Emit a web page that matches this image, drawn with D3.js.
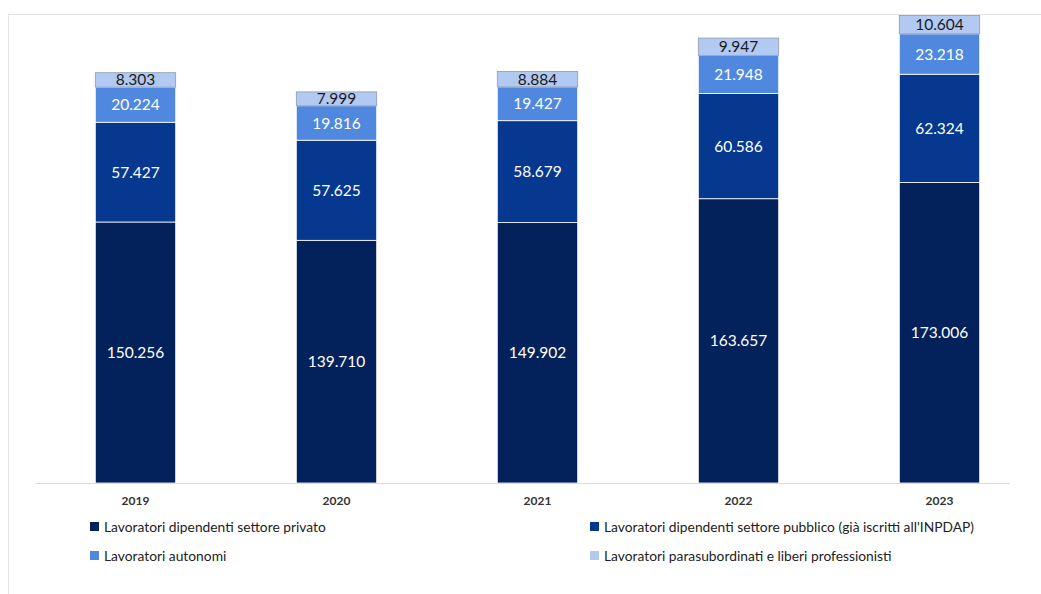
<!DOCTYPE html>
<html>
<head>
<meta charset="utf-8">
<script src="https://cdn.jsdelivr.net/npm/d3@7"></script>
<style>
  html, body { margin: 0; padding: 0; background: #fff; }
  svg { display: block; font-family: Lato, "Open Sans", sans-serif; }
</style>
</head>
<body>
<svg id="chart" width="1041" height="594"></svg>
<script>
// Iscritti per anno e categoria di lavoratori
const years = ["2019", "2020", "2021", "2022", "2023"];
const privato = [150256, 139710, 149902, 163657, 173006];
const pubblico = [57427, 57625, 58679, 60586, 62324];
const autonomi = [20224, 19816, 19427, 21948, 23218];
const parasubordinati = [8303, 7999, 8884, 9947, 10604];

const seriesNames = [
  "Lavoratori dipendenti settore privato",
  "Lavoratori dipendenti settore pubblico (già iscritti all'INPDAP)",
  "Lavoratori autonomi",
  "Lavoratori parasubordinati e liberi professionisti"
];
const seriesKeys = ["privato", "pubblico", "autonomi", "parasubordinati"];
const colors = ["#03215a", "#07388f", "#5088df", "#b2c9f1"];
const labelColors = ["#ffffff", "#ffffff", "#ffffff", "#1b1b1b"];

const rows = years.map((y, i) => ({
  year: y,
  privato: privato[i],
  pubblico: pubblico[i],
  autonomi: autonomi[i],
  parasubordinati: parasubordinati[i]
}));

const svg = d3.select("#chart");
const it = d3.formatLocale({ decimal: ",", thousands: ".", grouping: [3], currency: ["€", ""] });
const fmt = it.format(",d");

// frame
svg.append("path")
  .attr("d", "M8.5,594 V14.5 H1041")
  .attr("fill", "none")
  .attr("stroke", "#e4e4e4")
  .attr("stroke-width", 1);

const x = d3.scaleBand().domain(years).range([35, 1040]).paddingInner(0.6).paddingOuter(0.3);
const y = d3.scaleLinear().domain([0, 270000]).range([483, 14]);

const stack = d3.stack().keys(seriesKeys)(rows);

const layers = svg.append("g").selectAll("g")
  .data(stack)
  .join("g")
  .attr("fill", (d, i) => colors[i]);

layers.selectAll("rect")
  .data(d => d)
  .join("rect")
  .attr("x", d => x(d.data.year))
  .attr("width", x.bandwidth())
  .attr("y", d => y(d[1]))
  .attr("height", d => y(d[0]) - y(d[1]))
  .attr("stroke", (d, i, n) => d3.select(n[i].parentNode).datum().index === 3 ? "#8e9bb0" : "#ffffff")
  .attr("stroke-width", 0.8);

// value labels
const labels = svg.append("g").attr("text-anchor", "middle").attr("font-size", 15.5);
stack.forEach((layer, li) => {
  labels.selectAll(null)
    .data(layer)
    .join("text")
    .attr("x", d => x(d.data.year) + x.bandwidth() / 2)
    .attr("y", d => (y(d[0]) + y(d[1])) / 2)
    .attr("dy", "0.36em")
    .attr("fill", labelColors[li])
    .text(d => fmt(d.data[layer.key]));
});

// x axis
svg.append("line")
  .attr("x1", 35).attr("x2", 1010)
  .attr("y1", 483.5).attr("y2", 483.5)
  .attr("stroke", "#dcdcdc");

const xAxis = svg.append("g").attr("transform", "translate(0,483)")
  .call(d3.axisBottom(x).tickSize(0).tickPadding(13));
xAxis.select(".domain").remove();
xAxis.selectAll("text")
  .attr("font-family", "Lato, sans-serif")
  .attr("font-size", 12)
  .attr("font-weight", 700)
  .attr("fill", "#333");

// legend
const legendPos = [[90, 526], [590, 526], [90, 555], [590, 555]];
const legend = svg.append("g");
seriesNames.forEach((name, i) => {
  const [lx, ly] = legendPos[i];
  legend.append("rect")
    .attr("x", lx).attr("y", ly - 4)
    .attr("width", 9).attr("height", 9)
    .attr("fill", colors[i]);
  legend.append("text")
    .attr("x", lx + 14).attr("y", ly + 1)
    .attr("dy", "0.35em")
    .attr("font-size", 13.8)
    .attr("fill", "#222")
    .text(name);
});
</script>
</body>
</html>
